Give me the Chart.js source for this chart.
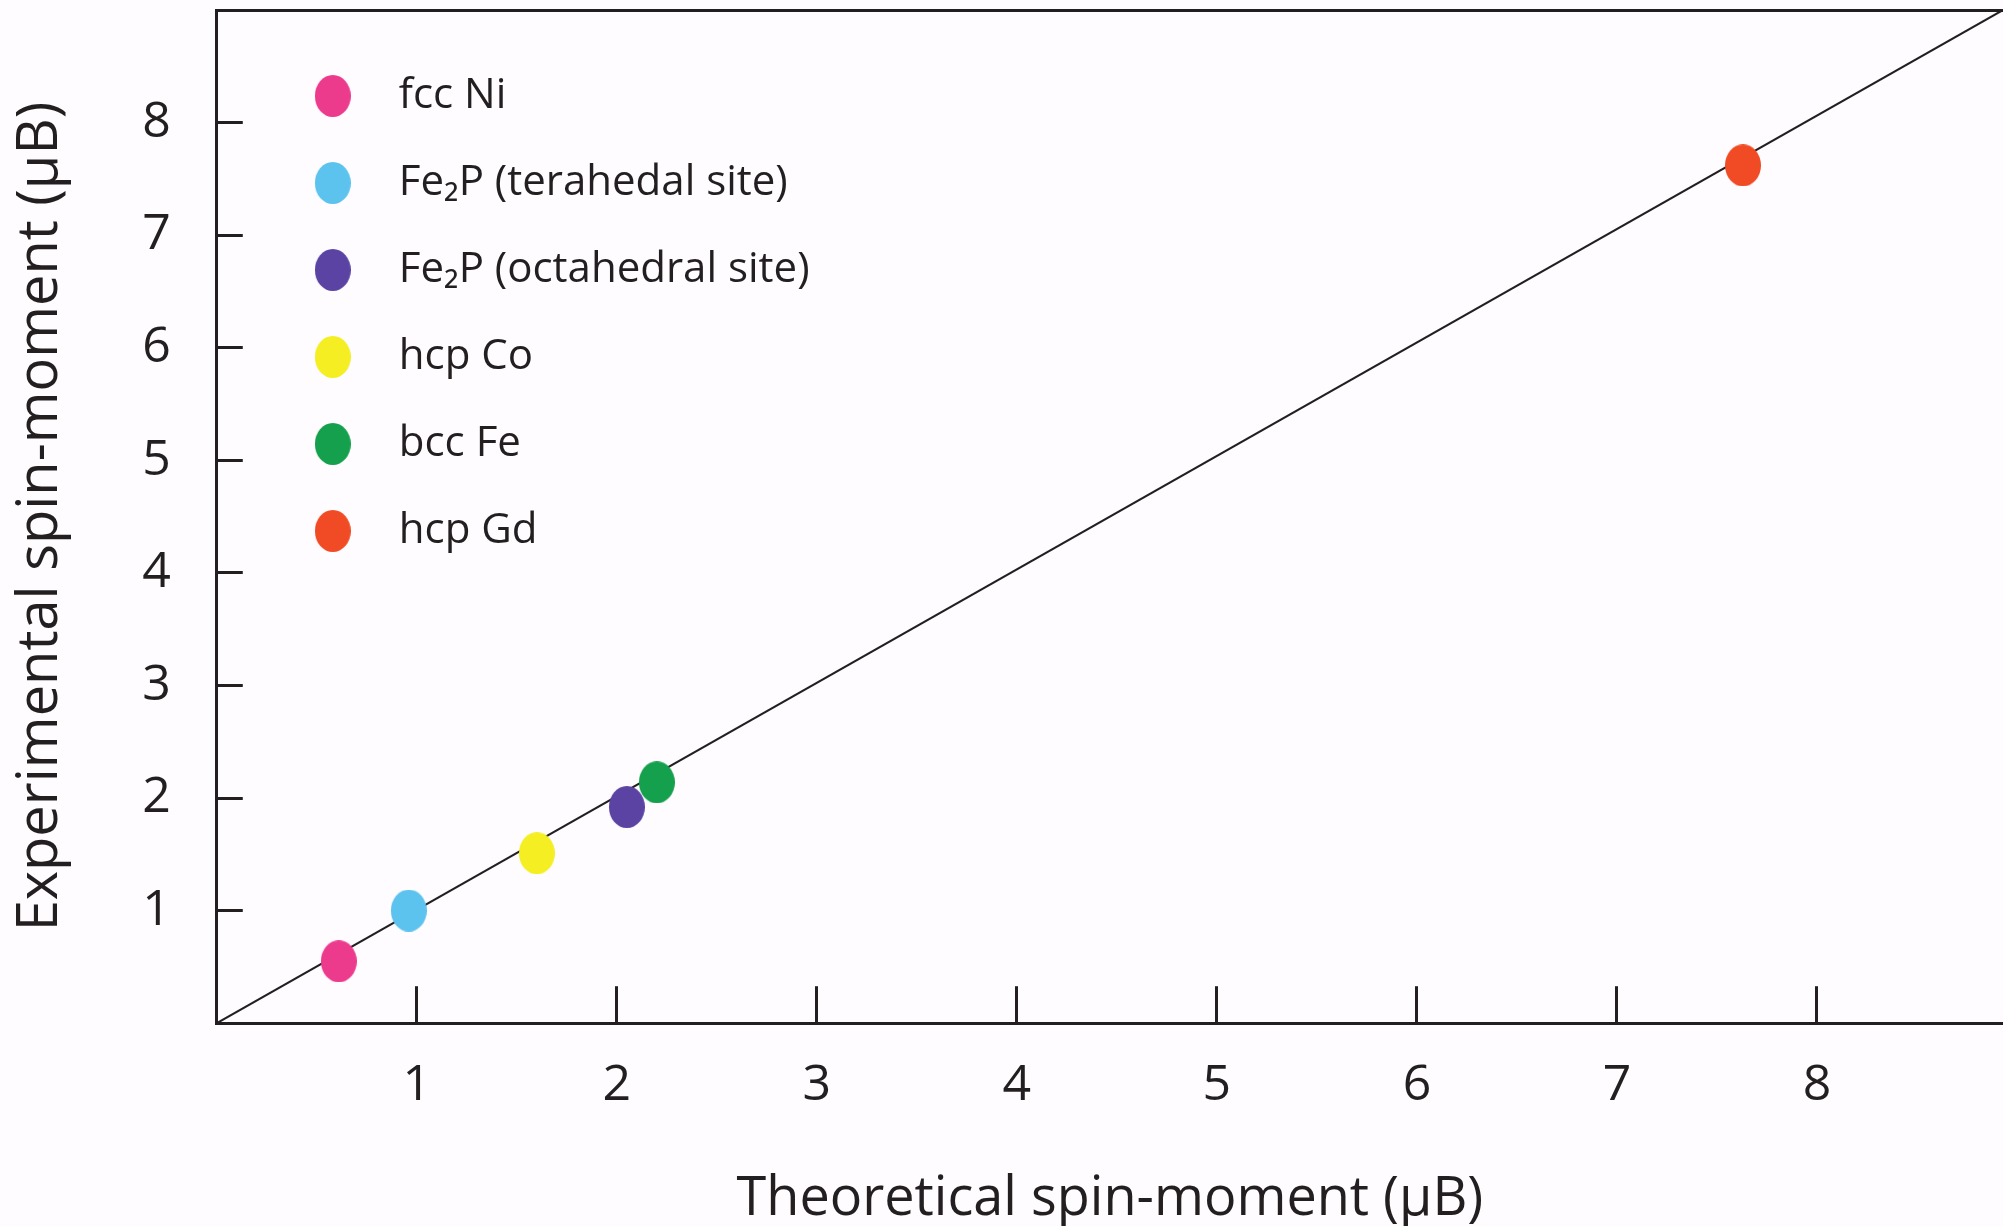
<html>
  <head>
    <script src="https://cdn.jsdelivr.net/npm/chart.js"></script>
    <style>
      body { margin: 0; background: #fefcfe; }
      #box { width: 2003px; height: 1226px; }
    </style>
  </head>
  <body>
  <div id="box">
    <canvas id="myChart"></canvas>
  </div>
  <script>
// one point per material, in legend order
const names = ['fcc Ni', 'Fe₂P (terahedal site)', 'Fe₂P (octahedral site)', 'hcp Co', 'bcc Fe', 'hcp Gd'];
const theoretical = [0.61, 0.96, 2.05, 1.60, 2.20, 7.63];
const experimental = [0.55, 1.00, 1.92, 1.51, 2.14, 7.62];
const colors = ['#ec3a8d', '#5cc2ee', '#5a43a3', '#f4ee22', '#14a04c', '#f04b24'];

// diagonal guide, corner to corner of the frame
const lineX = [0, 8.93];
const lineY = [0, 9.0];

const xTicks = [1, 2, 3, 4, 5, 6, 7, 8];
const yTicks = [1, 2, 3, 4, 5, 6, 7, 8];

const ink = '#231f20';
Chart.defaults.font.family = "'Open Sans', sans-serif";

// slightly tall dots, like the figure
function dot(color) {
  const c = document.createElement('canvas');
  c.width = 36;
  c.height = 42;
  const g = c.getContext('2d');
  g.fillStyle = color;
  g.beginPath();
  g.ellipse(18, 21, 18, 21, 0, 0, Math.PI * 2);
  g.fill();
  return c;
}

let datasets = [];
for (let i = 0; i < names.length; i++) {
  datasets.push({
    type: 'scatter',
    label: names[i],
    data: [{x: theoretical[i], y: experimental[i]}],
    pointStyle: dot(colors[i]),
    backgroundColor: colors[i],
    borderColor: colors[i],
    order: i == 2 ? 1 : 0   // bcc Fe sits on top of the octahedral dot
  });
}
datasets.push({
  type: 'line',
  label: 'diagonal',
  data: lineX.map((x, i) => ({x: x, y: lineY[i]})),
  borderColor: ink,
  borderWidth: 2,
  pointRadius: 0,
  fill: false,
  order: 2
});

// legend lives inside the plot, top left
const legendInside = {
  id: 'legendInside',
  afterLayout(chart) {
    chart.legend.left = chart.chartArea.left + 26;
    chart.legend.top = chart.chartArea.top + 20;
  }
};

const config = {
  type: 'scatter',
  data: {datasets: datasets},
  plugins: [legendInside],
  options: {
    responsive: true,
    maintainAspectRatio: false,
    animation: false,
    layout: {autoPadding: false, padding: {top: 10, right: 0, bottom: 0, left: 0}},
    plugins: {
      tooltip: {enabled: false},
      legend: {
        position: 'chartArea',
        align: 'start',
        labels: {
          usePointStyle: true,
          pointStyleWidth: 90,
          boxHeight: 36,
          padding: 45,
          color: ink,
          font: {size: 42},
          filter: item => item.datasetIndex < names.length,
          sort: (a, b) => a.datasetIndex - b.datasetIndex
        }
      }
    },
    scales: {
      x: {
        type: 'linear',
        position: 'bottom',
        min: lineX[0],
        max: lineX[1],
        afterBuildTicks: axis => { axis.ticks = xTicks.map(v => ({value: v})); },
        grid: {drawOnChartArea: false, tickLength: -37, lineWidth: 3, color: ink},
        border: {display: true, color: ink, width: 3},
        ticks: {color: ink, font: {size: 50}, padding: 70},
        title: {
          display: true,
          text: 'Theoretical spin-moment (μB)',
          color: ink,
          font: {size: 54},
          padding: {top: -19, bottom: -6}
        }
      },
      y: {
        type: 'linear',
        position: 'left',
        min: lineY[0],
        max: lineY[1],
        afterBuildTicks: axis => { axis.ticks = yTicks.map(v => ({value: v})); },
        // inner ticks leave no label overhang at the ends
        afterFit: axis => { axis.paddingTop = 0; axis.paddingBottom = 0; },
        grid: {drawOnChartArea: false, tickLength: -26, lineWidth: 3, color: ink},
        border: {display: true, color: ink, width: 3},
        ticks: {color: ink, font: {size: 50}, padding: 72},
        title: {
          display: true,
          text: 'Experimental spin-moment (μB)',
          color: ink,
          font: {size: 56},
          padding: {top: 7, bottom: -4}
        }
      },
      // only there for the frame line along the top
      x2: {
        type: 'linear',
        position: 'top',
        min: 0,
        max: 1,
        ticks: {display: false},
        grid: {drawOnChartArea: false, drawTicks: false},
        border: {display: true, color: ink, width: 3}
      }
    }
  }
};

const myChart = new Chart(document.getElementById('myChart'), config);
  </script>
  </body>
</html>
